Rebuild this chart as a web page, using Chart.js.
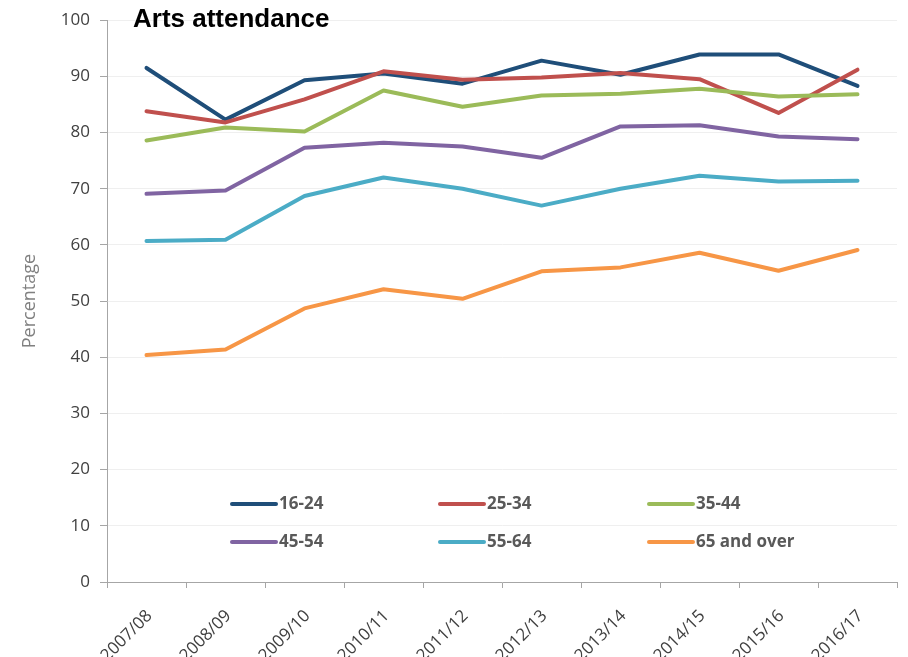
<!DOCTYPE html>
<html>
<head>
<meta charset="utf-8">
<title>Arts attendance</title>
<script src="https://cdn.jsdelivr.net/npm/chart.js@4"></script>
<style>
    html, body { margin: 0; padding: 0; background: #fff; overflow: hidden; }
    #chart { display: block; }
</style>
</head>
<body>
<canvas id="chart" width="908" height="657"></canvas>
<script>
// 年度
const years = ['2007/08', '2008/09', '2009/10', '2010/11', '2011/12', '2012/13', '2013/14', '2014/15', '2015/16', '2016/17'];

// 年齢層ごとの割合（%）
const age16to24 = [91.5, 82.3, 89.3, 90.5, 88.7, 92.8, 90.3, 93.9, 93.9, 88.3];
const age25to34 = [83.8, 81.8, 85.9, 90.9, 89.4, 89.8, 90.6, 89.5, 83.5, 91.2];
const age35to44 = [78.6, 80.9, 80.2, 87.5, 84.6, 86.6, 86.9, 87.8, 86.4, 86.8];
const age45to54 = [69.1, 69.7, 77.3, 78.2, 77.5, 75.5, 81.1, 81.3, 79.3, 78.8];
const age55to64 = [60.7, 60.9, 68.7, 72.0, 70.0, 67.0, 70.0, 72.3, 71.3, 71.4];
const age65plus = [40.4, 41.4, 48.7, 52.1, 50.4, 55.3, 56.0, 58.6, 55.4, 59.1];

const seriesNames = ['16-24', '25-34', '35-44', '45-54', '55-64', '65 and over'];
const seriesColors = ['#1F4E79', '#C0504D', '#9BBB59', '#8064A2', '#4BACC6', '#F79646'];
const seriesData = [age16to24, age25to34, age35to44, age45to54, age55to64, age65plus];

// 縦軸の目盛り
const yTicks = [0, 10, 20, 30, 40, 50, 60, 70, 80, 90, 100];

const axisGray = '#A6A6A6';
const labelColor = '#404040';

// グラフ内に凡例とタイトルを描画するプラグイン
const insideLegend = {
    id: 'insideLegend',
    afterDraw(chart) {
        const ctx = chart.ctx;
        const cols = [232, 440, 649];
        const rows = [504, 542];
        ctx.save();
        chart.data.datasets.forEach((ds, i) => {
            const x = cols[i % 3];
            const y = rows[Math.floor(i / 3)];
            ctx.strokeStyle = ds.borderColor;
            ctx.lineWidth = 4;
            ctx.lineCap = 'round';
            ctx.beginPath();
            ctx.moveTo(x, y);
            ctx.lineTo(x + 44, y);
            ctx.stroke();
            ctx.fillStyle = '#595959';
            ctx.font = 'bold 17px "Open Sans"';
            ctx.textBaseline = 'middle';
            ctx.textAlign = 'left';
            ctx.fillText(ds.label, x + 47, y);
        });

        // タイトル
        ctx.fillStyle = '#000';
        ctx.font = 'bold 26px "Liberation Sans", Arial';
        ctx.textBaseline = 'alphabetic';
        ctx.fillText('Arts attendance', 133, 27);
        ctx.restore();
    }
};

const datasets = seriesNames.map((name, i) => ({
    label: name,
    data: seriesData[i],
    borderColor: seriesColors[i],
    backgroundColor: seriesColors[i],
    borderWidth: 4,
    borderJoinStyle: 'round',
    borderCapStyle: 'round',
    pointRadius: 0,
    tension: 0,
    fill: false,
    // 後の系列ほど手前に描く
    order: seriesNames.length - i
}));

new Chart(document.getElementById('chart'), {
    type: 'line',
    data: { labels: years, datasets: datasets },
    options: {
        responsive: false,
        animation: false,
        events: [],
        layout: { padding: { top: 16, right: 11, left: 0, bottom: 0 } },
        plugins: {
            legend: { display: false },
            title: { display: false },
            tooltip: { enabled: false }
        },
        scales: {
            x: {
                type: 'category',
                offset: true,
                afterFit(scale) { scale.height = 75; },
                border: { color: axisGray, width: 1 },
                grid: {
                    offset: true,
                    drawOnChartArea: false,
                    drawTicks: true,
                    tickLength: 6,
                    color: axisGray
                },
                ticks: {
                    autoSkip: false,
                    minRotation: 45,
                    maxRotation: 45,
                    padding: 18,
                    labelOffset: 3,
                    color: labelColor,
                    font: { family: '"Open Sans"', size: 17 }
                }
            },
            y: {
                min: 0,
                max: 100,
                afterFit(scale) { scale.width = 107; },
                afterBuildTicks(scale) { scale.ticks = yTicks.map(v => ({ value: v })); },
                border: { color: axisGray, width: 1 },
                grid: {
                    color: '#EFEFEF',
                    tickColor: axisGray,
                    tickLength: 7,
                    drawTicks: true
                },
                ticks: {
                    padding: 10,
                    color: labelColor,
                    font: { family: '"Open Sans"', size: 17 }
                },
                title: {
                    display: true,
                    text: 'Percentage',
                    color: '#808080',
                    padding: { top: 19, bottom: 0 },
                    font: { family: '"Open Sans"', size: 18 }
                }
            }
        }
    },
    plugins: [insideLegend]
});
</script>
</body>
</html>
